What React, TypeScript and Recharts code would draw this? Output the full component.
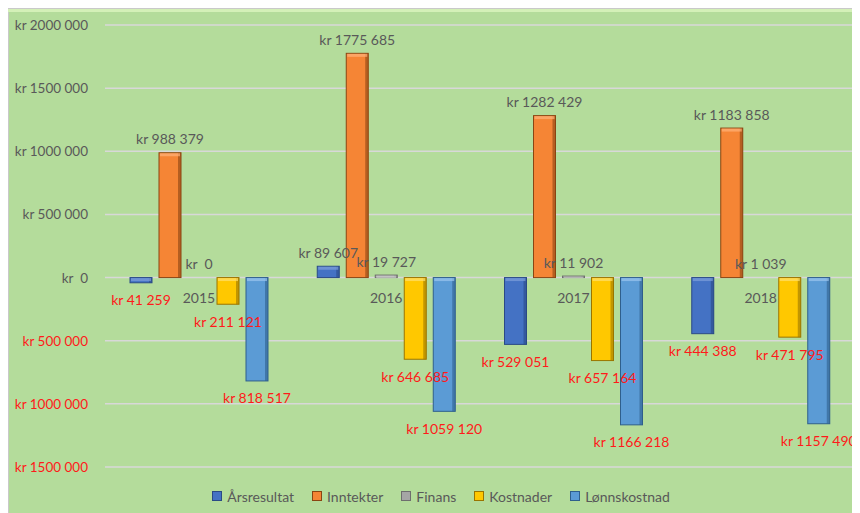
import React from 'react';
import { BarChart, Bar, XAxis, YAxis, CartesianGrid, Legend, LabelList } from 'recharts';

const years = ['2015', '2016', '2017', '2018'];
const arsresultat = [-41259, 89607, -529051, -444388];
const inntekter = [988379, 1775685, 1282429, 1183858];
const finans = [0, 19727, 11902, 1039];
const kostnader = [-211121, -646685, -657164, -471795];
const lonnskostnad = [-818517, -1059120, -1166218, -1157490];
const yTicks = [-1500000, -1000000, -500000, 0, 500000, 1000000, 1500000, 2000000];

const series = [
  { key: 'Årsresultat', values: arsresultat, color: '#4472C4', dark: '#2a4a86', light: '#7fa0dc' },
  { key: 'Inntekter', values: inntekter, color: '#F58535', dark: '#8a4512', light: '#ffb27a' },
  { key: 'Finans', values: finans, color: '#A5A5A5', dark: '#6e6e6e', light: '#d0d0d0' },
  { key: 'Kostnader', values: kostnader, color: '#FFC800', dark: '#9a7400', light: '#ffe070' },
  { key: 'Lønnskostnad', values: lonnskostnad, color: '#5B9BD5', dark: '#2f5f8c', light: '#9cc6ee' },
];

const data = years.map((year, i) => {
  const row: any = { year };
  series.forEach((s) => (row[s.key] = s.values[i]));
  return row;
});

const GRAY = '#595959';
const RED = '#ff1a1a';
const FONT = 'Lato, "Open Sans", sans-serif';

const fmt = (v: number) => {
  const a = Math.abs(Math.round(v));
  if (a === 0) return 'kr\u00a0\u00a00';
  if (a < 1000) return 'kr ' + a;
  return 'kr ' + Math.floor(a / 1000) + ' ' + String(a % 1000).padStart(3, '0');
};

// bar with a simple bevel look, like the Excel original
const bevel = (color: string, dark: string, light: string) => (props: any) => {
  const { x, y, width, height } = props;
  const top = Math.min(y, y + height);
  const h = Math.abs(height);
  if (!h || h < 0.5) return null;
  return (
    <g>
      <rect x={x} y={top} width={width} height={h} fill={color} stroke={dark} strokeWidth={1} />
      <rect x={x + width - 3} y={top} width={3} height={h} fill={dark} opacity={0.6} />
      <rect x={x + 1} y={top + 0.5} width={width - 2} height={Math.min(3, h)} fill={light} opacity={0.7} />
    </g>
  );
};

const valueLabel = (props: any) => {
  const { x, y, width, height, value } = props;
  const top = Math.min(y, y + height);
  const bottom = Math.max(y, y + height);
  const neg = value < 0;
  return (
    <text
      x={x + width / 2}
      y={neg ? bottom + 17 : top - 14}
      textAnchor="middle"
      dominantBaseline="central"
      fill={neg ? RED : GRAY}
      fontSize={14}
      fontFamily={FONT}
    >
      {fmt(value)}
    </text>
  );
};

const yearLabel = (props: any) => {
  const { x, y, width, height, value } = props;
  const bottom = Math.max(y, y + height);
  return (
    <text
      x={x + width / 2}
      y={bottom + 20}
      textAnchor="middle"
      dominantBaseline="central"
      fill={GRAY}
      fontSize={14}
      fontFamily={FONT}
    >
      {value}
    </text>
  );
};

const YTick = (props: any) => {
  const { x, y, payload } = props;
  return (
    <text x={x} y={y} textAnchor="end" dominantBaseline="central" fill={payload.value < 0 ? RED : GRAY} fontSize={13.5} fontFamily={FONT}>
      {fmt(payload.value)}
    </text>
  );
};

const LegendContent = () => (
  <div style={{ display: 'flex', justifyContent: 'center', alignItems: 'center', height: 20, fontFamily: FONT, fontSize: 14, color: GRAY }}>
    {series.map((s) => (
      <div key={s.key} style={{ display: 'flex', alignItems: 'center', margin: '0 9px' }}>
        <span
          style={{
            display: 'inline-block',
            width: 8,
            height: 8,
            background: s.color,
            border: `1px solid ${s.dark}`,
            marginRight: 5,
          }}
        />
        <span>{s.key}</span>
      </div>
    ))}
  </div>
);

export default function App() {
  return (
    <div
      style={{
        width: 852,
        height: 505,
        background: '#b4dc9b',
        boxShadow: 'inset 0 1px 0 #c9c9c9, inset 0 4px 0 #d4f0b8, inset 1px 0 0 #c9c9c9',
      }}
    >
      <BarChart
        width={852}
        height={505}
        data={data}
        margin={{ top: 17, right: 6, left: 0, bottom: 26 }}
        barSize={22}
        barGap={7}
      >
        <CartesianGrid vertical={false} stroke="#d8d8d8" strokeWidth={1.5} />
        <XAxis dataKey="year" hide />
        <YAxis
          width={97}
          domain={[-1500000, 2000000]}
          ticks={yTicks}
          axisLine={false}
          tickLine={false}
          tickSize={0}
          tickMargin={17}
          tick={<YTick />}
          interval={0}
        />
        <Legend content={<LegendContent />} wrapperStyle={{ bottom: 7, left: 10 }} verticalAlign="bottom" />
        {series.map((s) => (
          <Bar
            key={s.key}
            dataKey={s.key}
            fill={s.color}
            shape={bevel(s.color, s.dark, s.light)}
            isAnimationActive={false}
          >
            <LabelList dataKey={s.key} content={valueLabel} />
            {s.key === 'Finans' ? <LabelList dataKey="year" content={yearLabel} /> : null}
          </Bar>
        ))}
      </BarChart>
    </div>
  );
}
